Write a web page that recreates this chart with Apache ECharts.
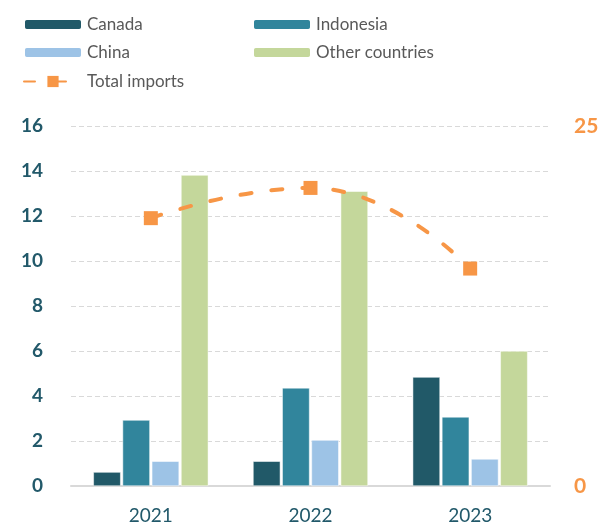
<!DOCTYPE html>
<html><head><meta charset="utf-8">
<script src="https://cdn.jsdelivr.net/npm/echarts@6/dist/echarts.min.js"></script>
<style>html,body{margin:0;padding:0;background:#fff}#c{width:603px;height:524px}</style>
</head><body><div id="c"></div>
<script>
const years = ['2021', '2022', '2023'];
const canada = [0.62, 1.1, 4.84];
const indonesia = [2.93, 4.36, 3.07];
const china = [1.1, 2.04, 1.2];
const other = [13.82, 13.1, 6.0];
const totalImports = [18.6, 20.7, 15.1];

const FONT = 'Lato';
const axisColor = '#22596a';
const legendText = { color: '#595959', fontSize: 17, fontFamily: FONT };
const chart = echarts.init(document.getElementById('c'));
const barBase = { type: 'bar', barGap: '7%', barCategoryGap: '28%', yAxisIndex: 0 };
chart.setOption({
  animation: false,
  legend: [
    { left: 23, top: 16, padding: 0, orient: 'vertical', itemWidth: 58, itemHeight: 11, itemGap: 11, textStyle: legendText, data: ['Canada', 'China'] },
    { left: 252, top: 16, padding: 0, orient: 'vertical', itemWidth: 58, itemHeight: 11, itemGap: 11, textStyle: legendText, data: ['Indonesia', 'Other countries'] },
    { left: 23, top: 73, padding: 0, itemWidth: 58, itemHeight: 14, textStyle: legendText, data: ['Total imports'] }
  ],
  grid: { left: 71, right: 53, top: 126, bottom: 38, outerBoundsMode: 'none' },
  xAxis: {
    type: 'category', data: years,
    axisLine: { lineStyle: { color: '#d9d9d9', width: 2 } },
    axisTick: { show: false },
    axisLabel: { color: axisColor, fontSize: 19, fontFamily: FONT, margin: 20 }
  },
  yAxis: [
    { type: 'value', min: 0, max: 16, interval: 2,
      axisLabel: { color: axisColor, fontSize: 19, fontWeight: 'bold', fontFamily: FONT, margin: 28 },
      splitLine: { lineStyle: { color: '#d9d9d9', type: [5, 3], width: 1 } },
      axisLine: { show: false }, axisTick: { show: false } },
    { type: 'value', min: 0, max: 25, interval: 25, position: 'right',
      axisLabel: { color: '#f79646', fontSize: 21, fontWeight: 'bold', fontFamily: FONT, margin: 24 },
      splitLine: { show: false }, axisLine: { show: false }, axisTick: { show: false } }
  ],
  series: [
    Object.assign({ name: 'Canada', data: canada, itemStyle: { color: '#215968', borderColor: '#fff', borderWidth: 0.5 } }, barBase),
    Object.assign({ name: 'Indonesia', data: indonesia, itemStyle: { color: '#31859c', borderColor: '#fff', borderWidth: 0.5 } }, barBase),
    Object.assign({ name: 'China', data: china, itemStyle: { color: '#9dc3e6', borderColor: '#fff', borderWidth: 0.5 } }, barBase),
    Object.assign({ name: 'Other countries', data: other, itemStyle: { color: '#c4d79b', borderColor: '#fff', borderWidth: 0.5 } }, barBase),
    { name: 'Total imports', type: 'line', yAxisIndex: 1, data: totalImports, smooth: 0.5,
      symbol: 'rect', symbolSize: 14, z: 5,
      itemStyle: { color: '#f79646' },
      lineStyle: { color: '#f79646', width: 4, type: [11, 20], cap: 'round' } }
  ]
});
</script></body></html>
